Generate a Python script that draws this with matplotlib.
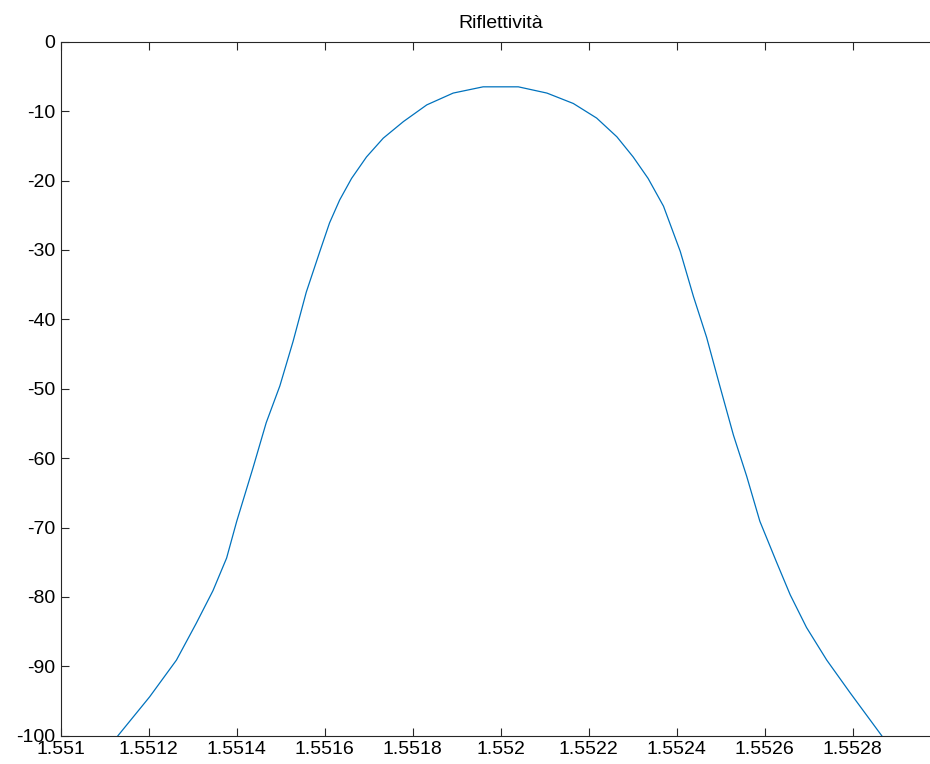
import matplotlib
matplotlib.use("Agg")
import matplotlib.pyplot as plt

# wavelength (um) and reflectivity (dB)
wavelength = [1.551130, 1.551202, 1.551263, 1.551308, 1.551346, 1.551377, 1.551400,
              1.551437, 1.551467, 1.551498, 1.551528, 1.551558, 1.551589, 1.551611,
              1.551634, 1.551661, 1.551695, 1.551733, 1.551779, 1.551832, 1.551892,
              1.551960, 1.552040, 1.552105, 1.552165, 1.552218, 1.552264, 1.552301,
              1.552335, 1.552370, 1.552408, 1.552438, 1.552468, 1.552498, 1.552529,
              1.552559, 1.552589, 1.552627, 1.552658, 1.552695, 1.552741, 1.552794,
              1.552866]
reflectivity = [-100.0, -94.4, -89.1, -83.8, -79.1, -74.4, -69.1,
                -61.4, -54.9, -49.6, -43.2, -36.1, -30.2, -26.1,
                -22.8, -19.7, -16.6, -13.9, -11.5, -9.1, -7.4,
                -6.5, -6.5, -7.4, -8.9, -11.0, -13.7, -16.6,
                -19.7, -23.7, -30.2, -36.7, -42.6, -49.6, -56.7,
                -62.6, -69.1, -75.0, -79.7, -84.4, -89.1, -93.8,
                -100.0]

xticks = [1.551, 1.5512, 1.5514, 1.5516, 1.5518, 1.552, 1.5522, 1.5524, 1.5526, 1.5528]
xtick_labels = ["1.551", "1.5512", "1.5514", "1.5516", "1.5518", "1.552",
                "1.5522", "1.5524", "1.5526", "1.5528"]
yticks = [0, -10, -20, -30, -40, -50, -60, -70, -80, -90, -100]

plt.rcParams['font.family'] = ['Liberation Sans', 'DejaVu Sans']
plt.rcParams['axes.unicode_minus'] = False

fig = plt.figure(figsize=(9.3, 7.64), dpi=100)
# the axes run past the right edge, as in the cropped original
ax = fig.add_axes([0.0653, 0.037, 0.9462, 0.9084])

ax.plot(wavelength, reflectivity, color='#0072BD', linewidth=0.9)

ax.set_xlim(1.551, 1.553)
ax.set_ylim(-100, 0)
ax.set_xticks(xticks)
ax.set_xticklabels(xtick_labels)
ax.set_yticks(yticks)
ax.tick_params(direction='in', length=6, width=0.8, labelsize=14, color='#262626',
               top=True, right=True, pad=4)
for s in ax.spines.values():
    s.set_color('#262626')
    s.set_linewidth(0.8)

ax.set_title("Riflettività", fontsize=14, pad=10)

fig.savefig("out.png", dpi=100)
